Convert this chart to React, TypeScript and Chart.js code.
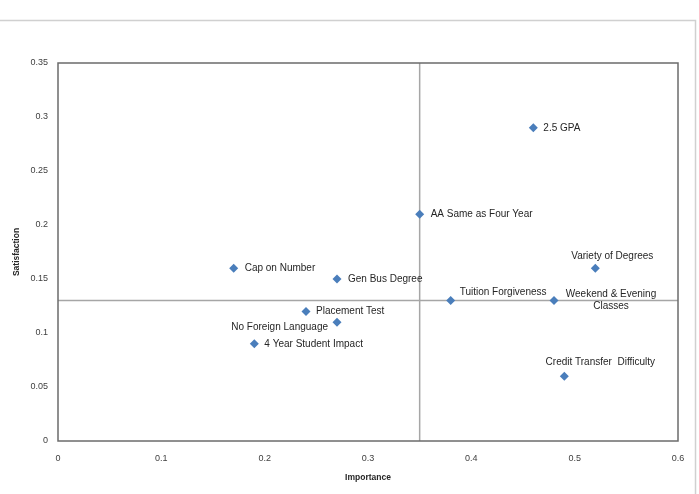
import React, { useEffect, useRef } from "react";
import { Chart, registerables } from "chart.js";

Chart.register(...registerables);

// Survey items: importance vs. satisfaction
const itemNames = [
  "2.5 GPA",
  "AA Same as Four Year",
  "Variety of Degrees",
  "Cap on Number",
  "Gen Bus Degree",
  "Tuition Forgiveness",
  "Weekend & Evening\nClasses",
  "Placement Test",
  "No Foreign Language",
  "4 Year Student Impact",
  "Credit Transfer  Difficulty",
];
const importance = [0.46, 0.35, 0.52, 0.17, 0.27, 0.38, 0.48, 0.24, 0.27, 0.19, 0.49];
const satisfaction = [0.29, 0.21, 0.16, 0.16, 0.15, 0.13, 0.13, 0.12, 0.11, 0.09, 0.06];

// Quadrant dividers
const importanceDivider = 0.35;
const satisfactionDivider = 0.13;

const xTickLabels = ["0", "0.1", "0.2", "0.3", "0.4", "0.5", "0.6"];
const yTickLabels = ["0", "0.05", "0.1", "0.15", "0.2", "0.25", "0.3", "0.35"];

// Label placement relative to each marker (pixels): dx, dy, alignment
const labelPlacement: { dx: number; dy: number; align: CanvasTextAlign }[] = [
  { dx: 10, dy: 0, align: "left" },
  { dx: 11, dy: 0, align: "left" },
  { dx: 17, dy: -12, align: "center" },
  { dx: 11, dy: 0, align: "left" },
  { dx: 11, dy: 0, align: "left" },
  { dx: 9, dy: -8, align: "left" },
  { dx: 57, dy: -6, align: "center" },
  { dx: 10, dy: 0, align: "left" },
  { dx: -9, dy: 5, align: "right" },
  { dx: 10, dy: 0, align: "left" },
  { dx: 36, dy: -14, align: "center" },
];

const FONT = "'Liberation Sans', Arial, sans-serif";

const quadrantPlugin = {
  id: "quadrant",
  beforeDraw(chart: any) {
    const { ctx, width, height } = chart;
    ctx.save();
    ctx.fillStyle = "#ffffff";
    ctx.fillRect(0, 0, width, height);
    // outer frame
    ctx.strokeStyle = "#d0d0d0";
    ctx.lineWidth = 1.5;
    ctx.strokeRect(-5, 20.5, 700.5, 500);
    ctx.restore();
  },
  beforeDatasetsDraw(chart: any) {
    const { ctx, chartArea, scales } = chart;
    const x = scales.x.getPixelForValue(importanceDivider);
    const y = scales.y.getPixelForValue(satisfactionDivider);
    ctx.save();
    ctx.strokeStyle = "#a6a6a6";
    ctx.lineWidth = 1.5;
    ctx.beginPath();
    ctx.moveTo(x, chartArea.top);
    ctx.lineTo(x, chartArea.bottom);
    ctx.moveTo(chartArea.left, y);
    ctx.lineTo(chartArea.right, y);
    ctx.stroke();
    // plot area border
    ctx.strokeStyle = "#6b6b6b";
    ctx.lineWidth = 1.5;
    ctx.strokeRect(
      chartArea.left,
      chartArea.top,
      chartArea.right - chartArea.left,
      chartArea.bottom - chartArea.top
    );
    ctx.restore();
  },
  afterDatasetsDraw(chart: any) {
    const { ctx } = chart;
    const meta = chart.getDatasetMeta(0);
    ctx.save();
    ctx.font = `10px ${FONT}`;
    ctx.fillStyle = "#262626";
    ctx.textBaseline = "middle";
    meta.data.forEach((pt: any, i: number) => {
      const p = labelPlacement[i];
      ctx.textAlign = p.align;
      const lines = itemNames[i].split("\n");
      lines.forEach((line, k) => {
        ctx.fillText(line, pt.x + p.dx, pt.y + p.dy + k * 12);
      });
    });
    ctx.restore();
  },
};

export default function App() {
  const canvasRef = useRef<HTMLCanvasElement | null>(null);

  useEffect(() => {
    const canvas = canvasRef.current;
    if (!canvas) return;
    const chart = new Chart(canvas, {
      type: "scatter",
      data: {
        datasets: [
          {
            data: importance.map((v, i) => ({ x: v, y: satisfaction[i] })),
            pointStyle: "rectRot",
            pointRadius: 4.5,
            pointHoverRadius: 4.5,
            backgroundColor: "#4a7ebb",
            borderColor: "#4a7ebb",
            borderWidth: 0,
          },
        ],
      },
      options: {
        responsive: false,
        animation: false,
        devicePixelRatio: 1,
        layout: { padding: { top: 63, right: 21, left: 0, bottom: 0 } },
        plugins: {
          legend: { display: false },
          tooltip: { enabled: false },
        },
        scales: {
          x: {
            type: "linear",
            min: 0,
            max: 0.6,
            afterFit: (s: any) => {
              s.height = 53;
            },
            grid: { display: false, drawTicks: false },
            border: { display: false },
            ticks: {
              stepSize: 0.1,
              padding: 12,
              color: "#404040",
              font: { family: FONT, size: 9 },
              callback: (_v: any, i: number) => xTickLabels[i],
            },
            title: {
              display: true,
              text: "Importance",
              color: "#262626",
              font: { family: FONT, size: 8.5, weight: "bold" },
              padding: { top: 0, bottom: 11 },
            },
          },
          y: {
            type: "linear",
            min: 0,
            max: 0.35,
            afterFit: (s: any) => {
              s.width = 58;
            },
            grid: { display: false, drawTicks: false },
            border: { display: false },
            ticks: {
              stepSize: 0.05,
              padding: 10,
              color: "#404040",
              font: { family: FONT, size: 9 },
              callback: (_v: any, i: number) => yTickLabels[i],
            },
            title: {
              display: true,
              text: "Satisfaction",
              color: "#262626",
              font: { family: FONT, size: 8.5, weight: "bold" },
              padding: { top: 12, bottom: 12 },
            },
          },
        },
      },
      plugins: [quadrantPlugin],
    });
    return () => chart.destroy();
  }, []);

  return (
    <div style={{ position: "fixed", left: 0, top: 0, width: 699, height: 494 }}>
      <canvas ref={canvasRef} width={699} height={494} style={{ display: "block" }} />
    </div>
  );
}
